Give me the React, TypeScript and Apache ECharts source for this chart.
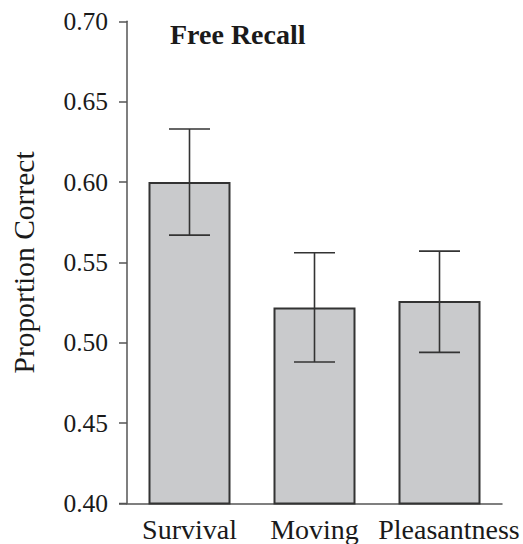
import React, { useEffect, useRef } from "react";
import * as echarts from "echarts";

const categories = ["Survival", "Moving", "Pleasantness"];
const means = [0.6, 0.522, 0.526];
const errLow = [0.567, 0.488, 0.494];
const errHigh = [0.633, 0.556, 0.557];
const yTicks = [0.4, 0.45, 0.5, 0.55, 0.6, 0.65, 0.7];

const FONT = "'Liberation Serif', 'Times New Roman', serif";
const INK = "#333333";

export default function App() {
  const ref = useRef<HTMLDivElement>(null);
  useEffect(() => {
    if (!ref.current) return;
    const chart = echarts.init(ref.current, null, { renderer: "svg" });
    chart.setOption({
      animation: false,
      backgroundColor: "#ffffff",
      title: {
        text: "Free Recall",
        left: 165,
        top: 15,
        textStyle: { fontFamily: FONT, fontWeight: "bold", fontSize: 28, color: "#1a1a1a" },
      },
      grid: { left: 127, right: 21, top: 21.3, bottom: 40.5, containLabel: false },
      xAxis: {
        type: "category",
        data: categories.map((c, i) =>
          i === 2 ? { value: c, textStyle: { padding: [0, 0, 0, 19] } } : c
        ),
        axisLine: { lineStyle: { color: "#555555", width: 1.5 } },
        axisTick: { show: false },
        axisLabel: { fontFamily: FONT, fontSize: 28, color: "#1a1a1a", margin: 12, interval: 0 },
      },
      yAxis: {
        type: "value",
        min: yTicks[0],
        max: yTicks[yTicks.length - 1],
        interval: 0.05,
        name: "Proportion Correct",
        nameLocation: "middle",
        nameGap: 88,
        nameTextStyle: { fontFamily: FONT, fontSize: 29.5, color: "#1a1a1a" },
        splitLine: { show: false },
        axisLine: { show: true, lineStyle: { color: "#555555", width: 1.5 } },
        axisTick: { show: true, length: 8, lineStyle: { color: "#555555", width: 1.5 } },
        axisLabel: {
          fontFamily: FONT,
          fontSize: 25.5,
          color: "#1a1a1a",
          margin: 19,
          formatter: (v: number) => v.toFixed(2),
        },
      },
      graphic: [
        {
          type: "line",
          shape: { x1: 119, y1: 503.5, x2: 127, y2: 503.5 },
          style: { stroke: "#555555", lineWidth: 1.5 },
        },
      ],
      series: [
        {
          type: "bar",
          data: means,
          barWidth: 82,
          itemStyle: { color: "#c9cacc", borderColor: INK, borderWidth: 2 },
          z: 2,
        },
        {
          type: "custom",
          data: categories.map((_, i) => [i, errLow[i], errHigh[i]]),
          z: 3,
          renderItem: (params: any, api: any) => {
            const x = api.value(0);
            const lo = api.coord([x, api.value(1)]);
            const hi = api.coord([x, api.value(2)]);
            const half = 20.5;
            const style = { stroke: INK, lineWidth: 1.6 };
            return {
              type: "group",
              children: [
                { type: "line", shape: { x1: lo[0], y1: lo[1], x2: hi[0], y2: hi[1] }, style },
                { type: "line", shape: { x1: hi[0] - half, y1: hi[1], x2: hi[0] + half, y2: hi[1] }, style },
                { type: "line", shape: { x1: lo[0] - half, y1: lo[1], x2: lo[0] + half, y2: lo[1] }, style },
              ],
            };
          },
        },
      ],
    });
    return () => chart.dispose();
  }, []);
  return <div ref={ref} style={{ width: 523, height: 544, position: "absolute", left: 0, top: 0 }} />;
}
